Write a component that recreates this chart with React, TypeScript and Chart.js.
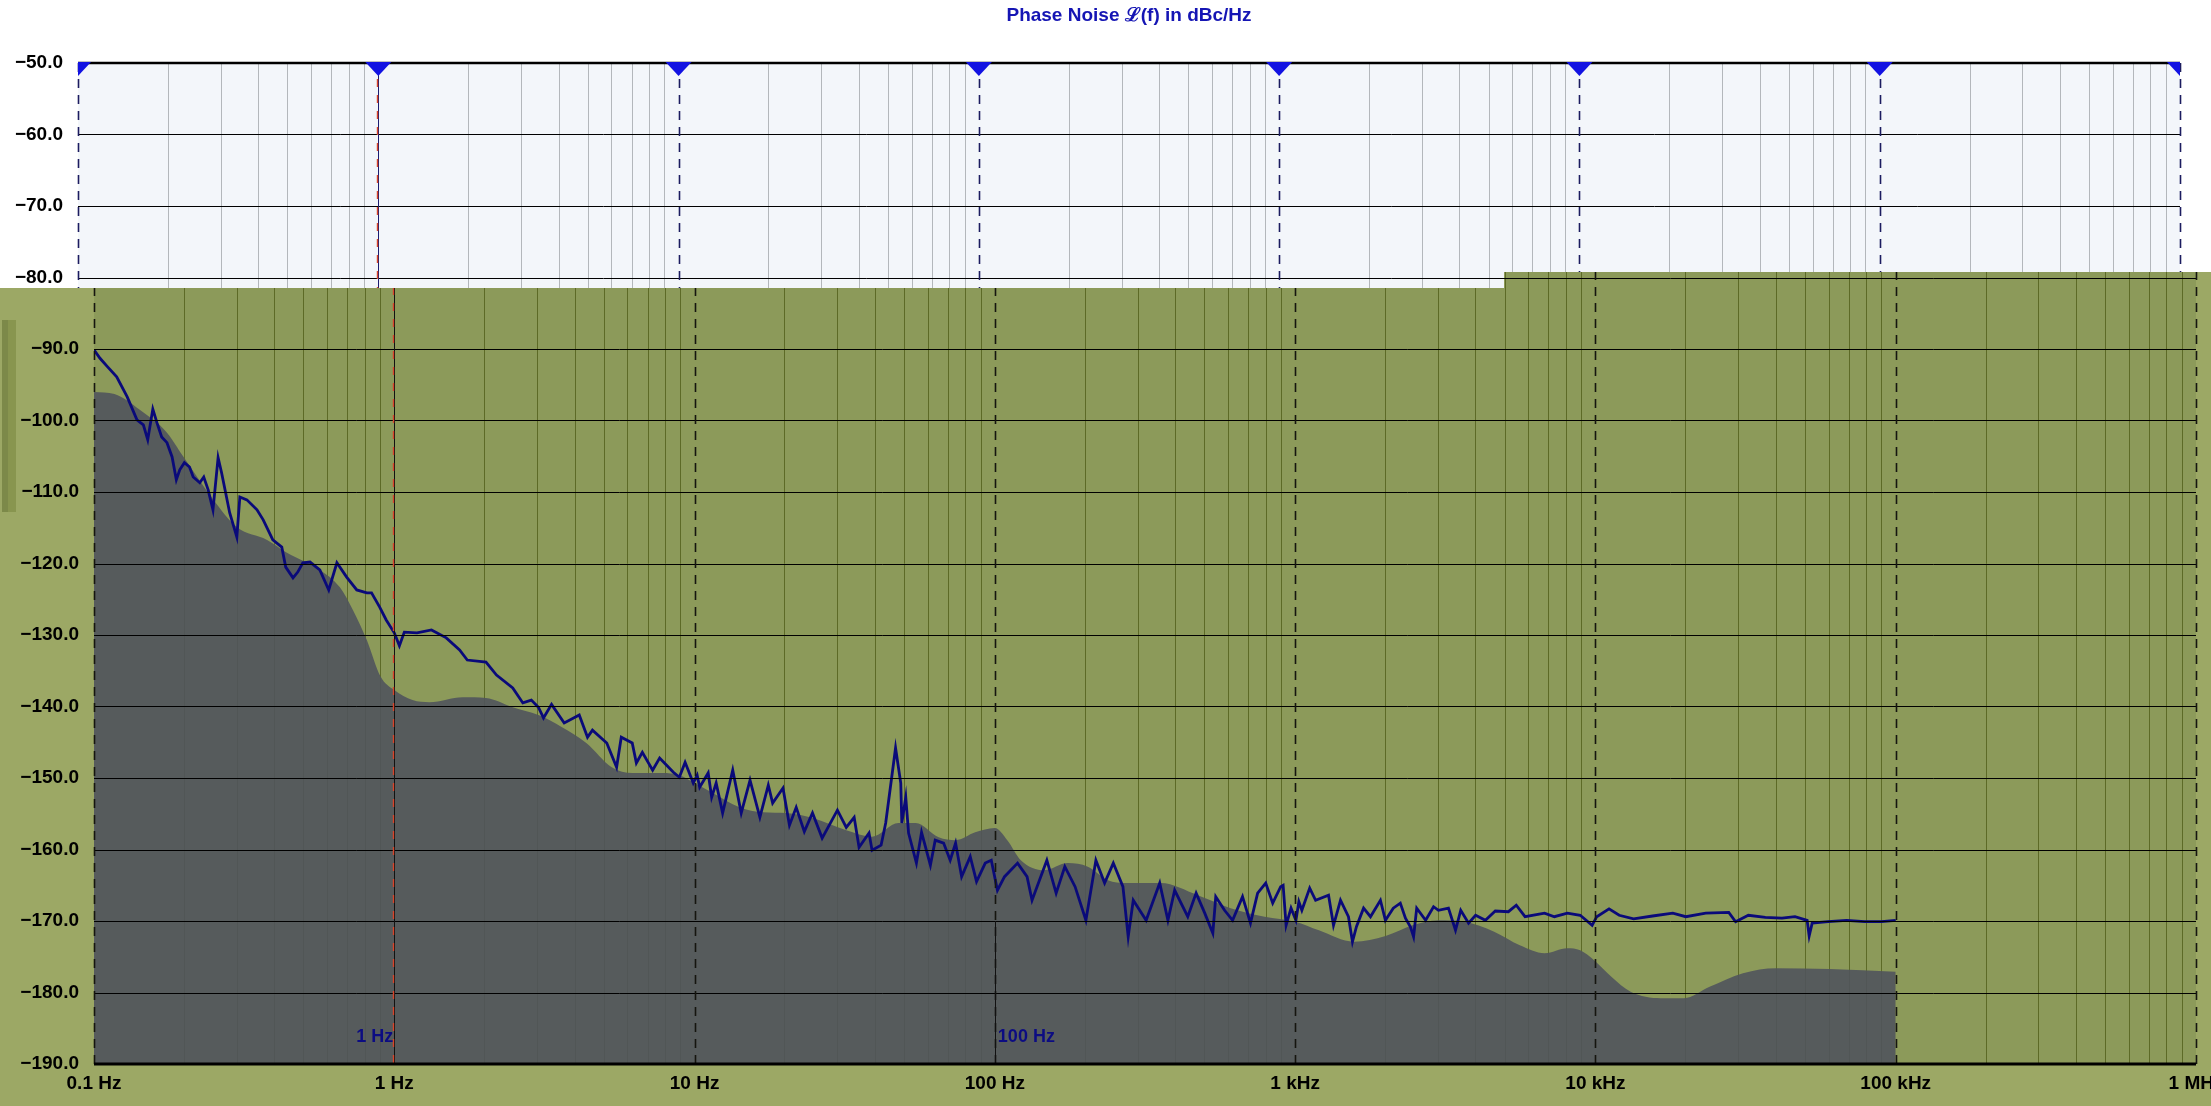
import React, { useEffect, useRef } from "react";
import { Chart, registerables } from "chart.js";

Chart.register(...registerables);

const W = 2211;
const H = 1106;
const SHIFT = 16;
const FAMILY = "'Liberation Sans', Arial, Helvetica, sans-serif";

const titleText = "Phase Noise \u2112(f) in dBc/Hz";

const decadeValues = [0.1, 1, 10, 100, 1000, 10000, 100000, 1000000];
const xTickLabels = ["0.1 Hz", "1 Hz", "10 Hz", "100 Hz", "1 kHz", "10 kHz", "100 kHz", "1 MHz"];
const yTickValues = [-190, -180, -170, -160, -150, -140, -130, -120, -110, -100, -90, -80, -70, -60, -50];

const markerFreqs = [1, 100];
const markerLabels = ["1 Hz", "100 Hz"];

const noiseFreq = [
  0.1, 0.1047, 0.111, 0.119, 0.129, 0.139, 0.146, 0.151, 0.157, 0.162, 0.168, 0.175, 0.182, 0.188, 0.193, 0.2,
  0.208, 0.214, 0.225, 0.232, 0.24, 0.249, 0.259, 0.266, 0.283, 0.299, 0.306, 0.323, 0.349, 0.366, 0.394, 0.422,
  0.435, 0.46, 0.477, 0.496, 0.524, 0.565, 0.605, 0.644, 0.694, 0.75, 0.81, 0.84, 0.894, 0.94, 1.0, 1.04,
  1.08, 1.19, 1.33, 1.49, 1.65, 1.75, 2.02, 2.19, 2.48, 2.68, 2.86, 3.02, 3.14, 3.34, 3.68, 4.13,
  4.4, 4.57, 5.1, 5.5, 5.7, 6.2, 6.4, 6.7, 7.25, 7.65, 8.5, 8.9, 9.3, 9.9, 10.2, 10.4,
  11.1, 11.4, 11.8, 12.4, 13.4, 14.3, 15.3, 16.5, 17.6, 18.2, 19.7, 20.7, 21.8, 23.2, 24.7, 26.6,
  29.9, 32, 34, 35.3, 38.1, 39, 41.8, 43.3, 46.7, 48.6, 49, 50.5, 51.6, 54.8, 57, 61,
  63.3, 67.5, 71, 74, 77.5, 82.8, 86.9, 92.9, 97.3, 102, 107.7, 119, 128, 133, 149, 160,
  171, 185, 201, 217, 232, 248, 267, 278, 289, 319, 354, 377, 397, 439, 468, 500,
  532, 544, 582, 619, 668, 710, 750, 798, 842, 895, 912, 933, 969, 1006, 1029, 1053,
  1118, 1170, 1292, 1342, 1416, 1505, 1552, 1600, 1690, 1782, 1923, 1998, 2122, 2240, 2330, 2420,
  2480, 2540, 2720, 2890, 3000, 3240, 3420, 3560, 3780, 3990, 4300, 4640, 5130, 5450, 5830, 6770,
  7300, 8060, 8900, 9750, 10100, 11100, 12000, 13400, 15500, 18100, 20000, 23300, 27800, 29300, 32300, 36800,
  41800, 46200, 50700, 51500, 52700, 59500, 68600, 78800, 89700, 100000,
];
const noiseDb = [
  -90.1, -91.3, -92.5, -93.9, -96.7, -99.9, -100.6, -102.7, -98.4, -100.3, -102.3, -103.1, -105.1, -108.3, -106.9, -105.9,
  -106.5, -107.9, -108.7, -107.9, -109.7, -112.5, -105.2, -107.3, -112.9, -116.3, -110.7, -111.1, -112.5, -113.9, -116.7, -117.7,
  -120.5, -122, -121.2, -119.9, -119.8, -120.9, -123.7, -119.9, -121.9, -123.7, -124.1, -124.1, -126.1, -127.9, -129.7, -131.5,
  -129.6, -129.7, -129.3, -130.4, -132.1, -133.5, -133.8, -135.6, -137.4, -139.5, -139.1, -140.1, -141.6, -139.7, -142.3, -141.2,
  -144.3, -143.3, -145.1, -148.5, -144.3, -145.1, -147.9, -146.4, -148.9, -147.2, -149.2, -149.9, -147.8, -150.7, -149.6, -151.3,
  -149.3, -152.7, -150.7, -154.9, -148.9, -154.9, -150.3, -155.5, -151, -153.5, -151.4, -156.6, -154.1, -157.5, -154.9, -158.4,
  -154.5, -156.9, -155.5, -159.7, -157.7, -160.1, -159.4, -156.3, -145.8, -150.7, -156.3, -152.7, -157.7, -161.9, -157.6, -162.2,
  -158.7, -159.1, -161.5, -159.1, -163.8, -161, -164.5, -161.9, -161.5, -165.7, -163.8, -161.9, -163.8, -167.1, -161.5, -166.1,
  -162.4, -165.2, -169.9, -161.5, -164.7, -161.9, -165.2, -172.2, -167.1, -169.9, -164.7, -169.9, -165.7, -169.4, -166.1, -168.9,
  -171.7, -166.6, -168.5, -169.9, -166.6, -170.3, -166.1, -164.7, -167.5, -165.2, -165, -170.6, -168.2, -169.9, -167.3, -168.5,
  -165.4, -167.1, -166.4, -170.6, -167.1, -169.4, -172.9, -170.8, -168.2, -169.4, -167.1, -169.9, -168.2, -167.5, -169.6, -170.8,
  -172.2, -168.2, -169.9, -168, -168.5, -168.2, -171.3, -168.5, -170.3, -169.2, -169.9, -168.6, -168.7, -167.8, -169.4, -168.9,
  -169.4, -168.9, -169.2, -170.6, -169.4, -168.3, -169.2, -169.7, -169.3, -168.9, -169.4, -168.9, -168.8, -170.1, -169.2, -169.5,
  -169.6, -169.4, -169.9, -172.1, -170.3, -170.1, -169.9, -170.1, -170.1, -169.9,
];

const maskFreq = [
  0.1, 0.117, 0.142, 0.175, 0.198, 0.249, 0.299, 0.377, 0.439, 0.565, 0.658, 0.728, 0.81, 0.9, 1.0, 1.15,
  1.31, 1.69, 2.02, 2.48, 3.02, 3.62, 4.36, 5.3, 6.2, 7.8, 8.9, 10, 11.5, 14.1, 16.9, 20.2,
  24.7, 32, 39, 47.8, 54.5, 65, 74, 86, 100, 110, 122, 146, 175, 204, 238, 272,
  357, 474, 610, 791, 1000, 1200, 1570, 2000, 2460, 3000, 3670, 4600, 5600, 6770, 8060, 8900,
  9900, 11300, 13100, 16500, 19700, 24000, 31000, 40000, 60000, 100000,
];
const maskDb = [
  -96.0, -96.3, -98.5, -101.7, -105, -111, -114.9, -116.7, -118.5, -120.9, -123.3, -126.5, -130.7, -135.8, -137.7, -139.1,
  -139.4, -138.7, -138.8, -140.1, -141.2, -142.9, -145.1, -148.5, -149.3, -149.3, -149.6, -150.7, -152.1, -154.1, -154.8, -154.9,
  -155.6, -157.3, -158.2, -156.3, -156.3, -158.3, -158.7, -157.6, -157, -158.7, -161.5, -162.9, -161.9, -162.4, -164.3, -164.7,
  -164.7, -166.4, -168.2, -169.4, -170.1, -171.3, -172.9, -172.1, -170.6, -169.9, -170.1, -171.5, -173.4, -174.5, -173.8, -174.1,
  -175.5, -177.8, -179.9, -180.8, -180.8, -179.2, -177.3, -176.6, -176.7, -177.1,
];

function gridTickValues(): number[] {
  const out: number[] = [];
  for (let d = -1; d <= 5; d++) {
    for (let m = 1; m <= 9; m++) out.push(+(m * Math.pow(10, d)).toPrecision(6));
  }
  out.push(1e6);
  return out;
}

function isDecade(v: number): boolean {
  const l = Math.log10(v);
  return Math.abs(l - Math.round(l)) < 1e-6;
}

function decadeLabel(v: number): string {
  const i = decadeValues.findIndex((d) => Math.abs(d - v) / d < 1e-6);
  return i >= 0 ? xTickLabels[i] : "";
}

function fmtDb(v: number): string {
  return (v < 0 ? "\u2212" : "") + Math.abs(v).toFixed(1);
}

type Variant = "base" | "olive";

function makePlugin(variant: Variant) {
  const isBase = variant === "base";
  return {
    id: "decor_" + variant,
    beforeDraw(chart: any) {
      const { ctx, chartArea: a } = chart;
      ctx.save();
      ctx.fillStyle = isBase ? "#f3f6fa" : "#8c9a5a";
      ctx.fillRect(a.left, a.top, a.right - a.left, a.bottom - a.top);
      ctx.restore();
    },
    afterDatasetsDraw(chart: any) {
      const { ctx, chartArea: a } = chart;
      const xs = chart.scales.x;
      const ys = chart.scales.y;
      ctx.save();
      ctx.beginPath();
      ctx.rect(a.left - 2, a.top - 2, a.right - a.left + 4, a.bottom - a.top + 4);
      ctx.clip();

      ctx.strokeStyle = "#000";
      ctx.lineWidth = 1;
      for (const v of yTickValues) {
        if (v === -50 || v === -190) continue;
        const y = Math.round(ys.getPixelForValue(v)) + 0.5;
        ctx.beginPath();
        ctx.moveTo(a.left, y);
        ctx.lineTo(a.right, y);
        ctx.stroke();
      }

      for (const d of decadeValues) {
        const x = Math.round(xs.getPixelForValue(d)) + 0.5;
        ctx.setLineDash([9, 7]);
        ctx.lineWidth = 1.6;
        ctx.strokeStyle = isBase ? "#1c1c60" : "#15150f";
        if (d === 1) {
          ctx.setLineDash([]);
          ctx.lineWidth = 1;
          ctx.strokeStyle = isBase ? "#1c1c70" : "#111";
          ctx.beginPath();
          ctx.moveTo(x, a.top);
          ctx.lineTo(x, a.bottom);
          ctx.stroke();
          ctx.setLineDash([8, 8]);
          ctx.lineWidth = 1.4;
          ctx.strokeStyle = "#d8452c";
          ctx.beginPath();
          ctx.moveTo(x - 1, a.top);
          ctx.lineTo(x - 1, a.bottom);
          ctx.stroke();
          continue;
        }
        ctx.beginPath();
        ctx.moveTo(x, a.top);
        ctx.lineTo(x, a.bottom);
        ctx.stroke();
      }
      ctx.setLineDash([]);

      {
        const x = Math.round(xs.getPixelForValue(markerFreqs[1])) + 0.5;
        ctx.strokeStyle = isBase ? "#1c1c70" : "#111";
        ctx.lineWidth = 1;
        ctx.beginPath();
        ctx.moveTo(x, ys.getPixelForValue(-170));
        ctx.lineTo(x, a.bottom);
        ctx.stroke();
      }

      ctx.strokeStyle = "#000";
      if (isBase) {
        ctx.lineWidth = 2.5;
        ctx.beginPath();
        ctx.moveTo(a.left, a.top);
        ctx.lineTo(a.right, a.top);
        ctx.stroke();
      } else {
        ctx.lineWidth = 3;
        ctx.beginPath();
        ctx.moveTo(a.left, a.bottom);
        ctx.lineTo(a.right, a.bottom);
        ctx.stroke();
      }

      ctx.restore();

      if (isBase) {
        ctx.save();
        ctx.beginPath();
        ctx.rect(a.left, a.top - 2, a.right - a.left, a.bottom - a.top);
        ctx.clip();
        ctx.fillStyle = "#1212e2";
        for (const d of decadeValues) {
          const x = xs.getPixelForValue(d);
          ctx.beginPath();
          ctx.moveTo(x - 13, a.top - 1);
          ctx.lineTo(x + 13, a.top - 1);
          ctx.lineTo(x, a.top + 13);
          ctx.closePath();
          ctx.fill();
        }
        ctx.restore();
      }

      ctx.save();
      ctx.font = `bold 18px ${FAMILY}`;
      ctx.fillStyle = "#0c0c82";
      ctx.textBaseline = "middle";
      const ly = a.bottom - 27;
      ctx.textAlign = "right";
      ctx.fillText(markerLabels[0], xs.getPixelForValue(markerFreqs[0]) - 1, ly);
      ctx.textAlign = "left";
      ctx.fillText(markerLabels[1], xs.getPixelForValue(markerFreqs[1]) + 3, ly);
      ctx.restore();
    },
    afterDraw(chart: any) {
      if (!isBase) return;
      const { ctx, chartArea: a } = chart;
      ctx.save();
      ctx.font = `bold 19px ${FAMILY}`;
      ctx.fillStyle = "#1515b4";
      ctx.textAlign = "center";
      ctx.textBaseline = "middle";
      ctx.fillText(titleText, (a.left + a.right) / 2, 16);
      ctx.restore();
    },
  };
}

function makeChart(canvas: HTMLCanvasElement, variant: Variant) {
  const ticks = gridTickValues();
  const minorColor = variant === "base" ? "#b3b7bb" : "#5d6a27";
  return new Chart(canvas, {
    type: "line",
    data: {
      datasets: [
        {
          label: "noise",
          data: noiseFreq.map((f, i) => ({ x: f, y: noiseDb[i] })),
          borderColor: "#0a0a7a",
          borderWidth: 2.8,
          pointRadius: 0,
          fill: false,
          tension: 0,
        },
        {
          label: "mask",
          data: maskFreq.map((f, i) => ({ x: f, y: maskDb[i] })),
          borderWidth: 0,
          borderColor: "rgba(0,0,0,0)",
          backgroundColor: "rgba(80,84,92,0.9)",
          fill: "start",
          pointRadius: 0,
          tension: 0.4,
          cubicInterpolationMode: "monotone",
        },
      ],
    } as any,
    options: {
      responsive: false,
      animation: false,
      devicePixelRatio: 1,
      layout: { padding: { top: 63, right: 31, left: 0, bottom: 0 } },
      plugins: {
        legend: { display: false },
        tooltip: { enabled: false },
        title: { display: false },
      },
      scales: {
        x: {
          type: "logarithmic",
          min: 0.1,
          max: 1e6,
          afterBuildTicks: (s: any) => {
            s.ticks = ticks.map((v) => ({ value: v }));
          },
          afterFit: (s: any) => {
            s.height = 42;
            s.paddingLeft = 0;
            s.paddingRight = 0;
          },
          ticks: {
            autoSkip: false,
            maxRotation: 0,
            minRotation: 0,
            padding: 8,
            color: "#000",
            font: { size: 19, weight: "bold", family: FAMILY },
            callback: (v: any) => decadeLabel(Number(v)),
          },
          grid: {
            drawTicks: false,
            lineWidth: 1,
            color: (c: any) => (c.tick && isDecade(c.tick.value) ? "rgba(0,0,0,0)" : minorColor),
          },
          border: { display: false },
        },
        y: {
          type: "linear",
          min: -190,
          max: -50,
          afterBuildTicks: (s: any) => {
            s.ticks = yTickValues.map((v) => ({ value: v }));
          },
          afterFit: (s: any) => {
            s.width = 78;
            s.paddingTop = 0;
            s.paddingBottom = 0;
          },
          ticks: {
            padding: 15,
            color: "#000",
            font: { size: 19, weight: "bold", family: FAMILY },
            callback: (v: any) => fmtDb(Number(v)),
          },
          grid: { display: false, drawTicks: false },
          border: { display: false },
        },
      },
    } as any,
    plugins: [makePlugin(variant)],
  });
}

export default function App() {
  const baseRef = useRef<HTMLCanvasElement | null>(null);
  const oliveRef = useRef<HTMLCanvasElement | null>(null);

  useEffect(() => {
    if (!baseRef.current || !oliveRef.current) return;
    const c1 = makeChart(baseRef.current, "base");
    const c2 = makeChart(oliveRef.current, "olive");
    return () => {
      c1.destroy();
      c2.destroy();
    };
  }, []);

  const clip = `polygon(0px 288px, 1504px 288px, 1504px 272px, ${W}px 272px, ${W}px ${H}px, 0px ${H}px)`;

  return (
    <div
      style={{
        position: "fixed",
        left: 0,
        top: 0,
        width: W,
        height: H,
        overflow: "hidden",
        background: "#ffffff",
      }}
    >
      <canvas
        ref={baseRef}
        width={W}
        height={H}
        style={{ position: "absolute", left: 0, top: 0, width: W, height: H }}
      />
      <div
        style={{
          position: "absolute",
          left: 0,
          top: 0,
          width: W,
          height: H,
          overflow: "hidden",
          background: "#9ca865",
          clipPath: clip,
        }}
      >
        <canvas
          ref={oliveRef}
          width={W}
          height={H}
          style={{ position: "absolute", left: SHIFT, top: 0, width: W, height: H }}
        />
        <div
          style={{
            position: "absolute",
            left: 2,
            top: 320,
            width: 14,
            height: 192,
            background: "linear-gradient(to right, #7c8949 0%, #7c8949 40%, #88954f 40%, #88954f 100%)",
          }}
        />
      </div>
    </div>
  );
}
